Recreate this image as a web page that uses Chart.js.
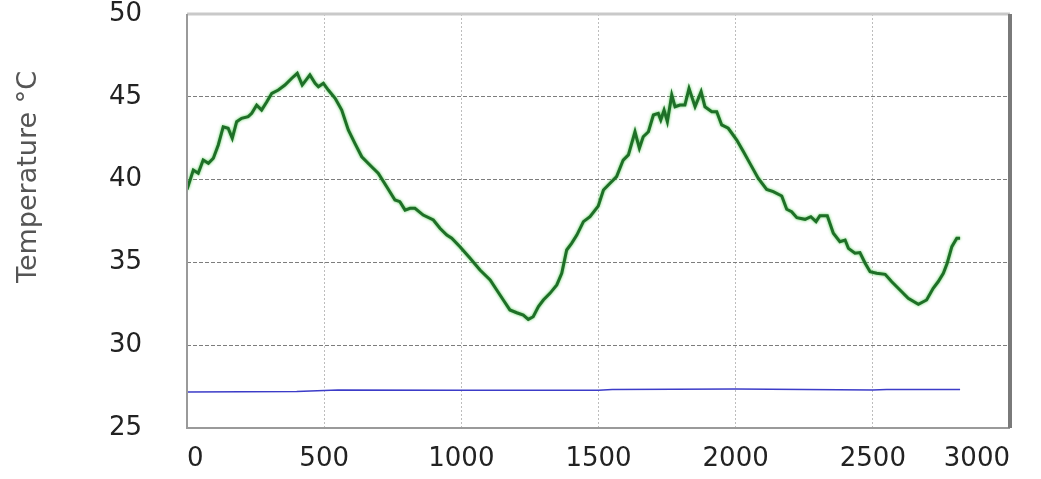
<!DOCTYPE html>
<html>
<head>
<meta charset="utf-8">
<script src="https://cdn.jsdelivr.net/npm/chart.js@4/dist/chart.umd.min.js"></script>
<style>
html,body{margin:0;padding:0;background:#fff;}
#wrap{width:1041px;height:479px;}
</style>
</head>
<body>
<div id="wrap"><canvas id="c"></canvas></div>
<script>
// time axis values and temperatures
const timeGreen=[0,23,41,59,78,96,114,132,150,165,181,199,223,236,254,272,291,309,333,357,382,402,420,448,467,479,497,515,540,564,588,612,637,673,697,728,758,776,795,813,831,861,898,922,947,965,995,1032,1068,1105,1129,1153,1177,1202,1226,1244,1262,1281,1299,1323,1348,1366,1384,1402,1421,1445,1469,1499,1518,1542,1566,1590,1609,1633,1649,1663,1682,1700,1718,1727,1739,1751,1767,1779,1797,1815,1830,1852,1874,1888,1913,1931,1949,1973,2004,2028,2052,2082,2113,2137,2168,2186,2204,2223,2253,2274,2293,2307,2334,2356,2380,2399,2411,2435,2453,2472,2490,2514,2545,2569,2599,2629,2666,2696,2720,2738,2757,2771,2788,2806,2818];
const tempGreen=[39.4,40.58,40.38,41.18,40.98,41.29,42.09,43.19,43.1,42.49,43.5,43.7,43.8,44.0,44.5,44.2,44.7,45.21,45.41,45.71,46.12,46.42,45.71,46.32,45.82,45.61,45.82,45.41,44.91,44.2,43.0,42.19,41.38,40.78,40.38,39.57,38.77,38.67,38.16,38.27,38.27,37.86,37.56,37.06,36.65,36.46,35.95,35.25,34.54,33.94,33.33,32.73,32.13,31.96,31.82,31.56,31.72,32.33,32.73,33.13,33.64,34.34,35.75,36.15,36.65,37.46,37.76,38.4,39.37,39.78,40.18,41.18,41.49,42.89,41.89,42.59,42.89,43.9,44.0,43.6,44.2,43.5,45.11,44.4,44.5,44.5,45.51,44.4,45.31,44.4,44.1,44.1,43.3,43.1,42.39,41.69,40.98,40.08,39.41,39.27,39.01,38.21,38.06,37.7,37.6,37.76,37.46,37.82,37.82,36.76,36.25,36.35,35.85,35.55,35.59,34.95,34.44,34.34,34.28,33.83,33.33,32.83,32.47,32.73,33.44,33.83,34.34,34.95,35.95,36.46,36.46];
const timeBlue=[0,400,550,1000,1500,1550,2000,2500,2550,2818];
const tempBlue=[27.17,27.2,27.3,27.28,27.28,27.33,27.35,27.3,27.33,27.33];
const yTitle="Temperature °C";

const toPts=(xs,ys)=>xs.map((x,i)=>({x:x,y:ys[i]}));
const tickFont={family:"DejaVu Sans",size:26};
const noPad=s=>{s.paddingTop=0;s.paddingBottom=0;s.paddingLeft=0;s.paddingRight=0;};

// frame round the plot, glow on the green trace, rotated axis title
const frame={
  id:"frame",
  beforeDatasetDraw(chart,args){
    if(args.index!==0) return;
    chart.ctx.save();
    chart.ctx.shadowColor="rgba(70,200,70,0.9)";
    chart.ctx.shadowBlur=3;
  },
  afterDatasetDraw(chart,args){
    if(args.index===0) chart.ctx.restore();
  },
  afterDatasetsDraw(chart){
    const {ctx,chartArea:a}=chart;
    ctx.save();
    ctx.lineWidth=3;ctx.strokeStyle="#c9c9c9";
    ctx.beginPath();ctx.moveTo(a.left,a.top);ctx.lineTo(a.right,a.top);ctx.stroke();
    ctx.lineWidth=2;ctx.strokeStyle="#9a9a9a";
    ctx.beginPath();ctx.moveTo(a.left,a.top);ctx.lineTo(a.left,a.bottom);ctx.lineTo(a.right,a.bottom);ctx.stroke();
    ctx.lineWidth=4;ctx.strokeStyle="#7a7a7a";
    ctx.beginPath();ctx.moveTo(a.right,a.top);ctx.lineTo(a.right,a.bottom);ctx.stroke();
    ctx.restore();
  },
  afterDraw(chart){
    const ctx=chart.ctx;
    ctx.save();
    ctx.translate(29,177);ctx.rotate(-Math.PI/2);
    ctx.font="27px 'DejaVu Sans'";ctx.fillStyle="#555";
    ctx.textAlign="center";ctx.textBaseline="middle";
    ctx.fillText(yTitle,0,0);
    ctx.restore();
  }
};

new Chart(document.getElementById("c"),{
  type:"line",
  data:{datasets:[
    {data:toPts(timeGreen,tempGreen),borderColor:"#1f6f28",borderWidth:3,pointRadius:0,tension:0},
    {data:toPts(timeBlue,tempBlue),borderColor:"#3c3cc8",borderWidth:1.5,pointRadius:0,tension:0}
  ]},
  options:{
    responsive:true,maintainAspectRatio:false,animation:false,
    layout:{padding:{left:0,right:31,top:14,bottom:0}},
    plugins:{legend:{display:false},tooltip:{enabled:false}},
    scales:{
      x:{type:"linear",min:0,max:3000,
        ticks:{stepSize:500,font:tickFont,color:"#222",padding:16,maxRotation:0,autoSkip:false,align:"inner",callback:v=>String(v)},
        grid:{color:"#bdbdbd",lineWidth:1,drawTicks:false},
        border:{display:false,dash:[2,2]},
        afterFit:s=>{s.height=51;noPad(s);}},
      y:{min:25,max:50,
        ticks:{stepSize:5,font:tickFont,color:"#222",padding:45,callback:v=>String(v)},
        grid:{color:"#7d7d7d",lineWidth:1,drawTicks:false},
        border:{display:false,dash:[4,2]},
        afterFit:s=>{s.width=187;noPad(s);}}
    }
  },
  plugins:[frame]
});
</script>
</body>
</html>
